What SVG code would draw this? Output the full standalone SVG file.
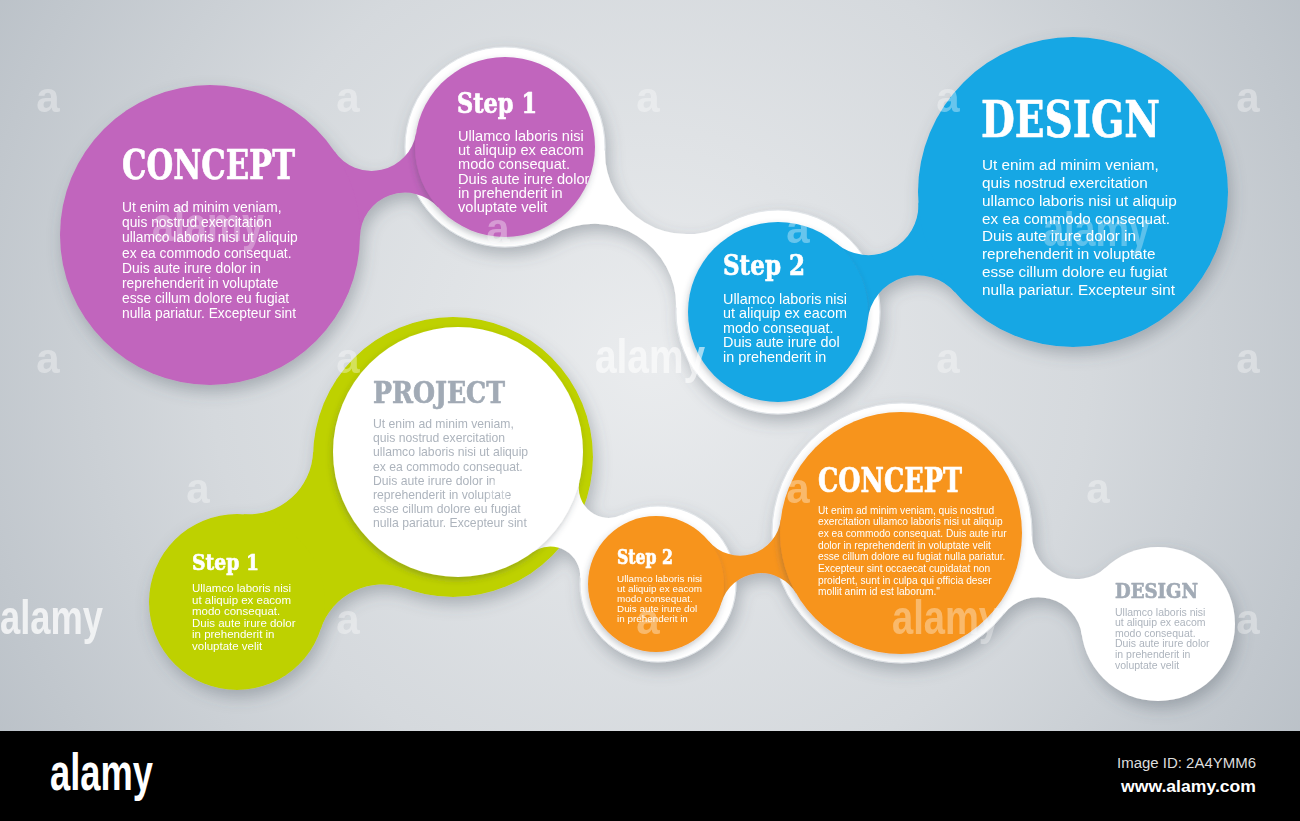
<svg xmlns="http://www.w3.org/2000/svg" width="1300" height="821" viewBox="0 0 1300 821">
<defs>
<radialGradient id="bg" cx="650" cy="360" r="800" gradientUnits="userSpaceOnUse">
<stop offset="0" stop-color="#eaecee"/>
<stop offset="0.55" stop-color="#d5d9dd"/>
<stop offset="1" stop-color="#b7bec5"/>
</radialGradient>
<filter id="sh" x="-10%" y="-10%" width="125%" height="130%">
<feGaussianBlur in="SourceAlpha" stdDeviation="8"/>
<feOffset dx="3" dy="7" result="o"/>
<feFlood flood-color="#4a5560" flood-opacity="0.35"/>
<feComposite in2="o" operator="in"/>
<feMerge><feMergeNode/><feMergeNode in="SourceGraphic"/></feMerge>
</filter>
<filter id="sh2" x="-15%" y="-15%" width="130%" height="130%">
<feGaussianBlur in="SourceAlpha" stdDeviation="3"/>
<feOffset dx="-1" dy="3" result="o"/>
<feFlood flood-color="#3a4550" flood-opacity="0.3"/>
<feComposite in2="o" operator="in"/>
<feMerge><feMergeNode/><feMergeNode in="SourceGraphic"/></feMerge>
</filter>
<style>
.t{font-family:"DejaVu Serif","Liberation Serif",serif;font-weight:bold;stroke-width:0.7;stroke-linejoin:round}
.b{font-family:"Liberation Sans",Arial,sans-serif}
.w{fill:#ffffff}
.t.w{stroke:#ffffff}
.gt{fill:#a1aab5;stroke:#a1aab5}
.gb{fill:#adb4bd}
.pu{fill:#c165bd}
.bl{fill:#17a7e4}
.gr{fill:#bed100}
.or{fill:#f7941e}
.wh{fill:#ffffff}
.plate{fill:#ffffff;stroke:#e1e5e9;stroke-width:1}
.wm{font-family:"Liberation Sans",Arial,sans-serif;font-weight:bold;fill:#ffffff}
</style>
</defs>
<rect x="0" y="0" width="1300" height="731" fill="url(#bg)"/>

<g filter="url(#sh)">
<g id="plates">
<circle class="plate" cx="505" cy="147" r="100"/>
<circle class="plate" cx="778" cy="312" r="102"/>
<circle class="plate" cx="658" cy="584" r="78"/>
<circle class="plate" cx="902" cy="533" r="130"/>
<circle class="gr" cx="453" cy="457" r="140"/>
</g>

<g id="connectors">
<path class="wh" d="M605.0 149.8 A82 82 0 0 0 727.5 223.4 L676.1 308.5 A82 82 0 0 0 554.0 234.2 Z"/>
<path class="wh" d="M579.6 481.0 A30 30 0 0 0 622.5 514.6 L580.2 578.6 A30 30 0 0 0 532.5 552.4 Z"/>
<path class="wh" d="M1032.0 534.5 A44 44 0 0 0 1105.8 567.4 L1081.8 635.0 A44 44 0 0 0 1003.8 613.9 Z"/>
<path class="pu" d="M334.3 151.0 A45 45 0 0 0 416.1 132.9 L438.4 207.5 A45 45 0 0 0 360.0 237.1 Z"/>
<path class="bl" d="M836.1 243.3 A50 50 0 0 0 918.3 201.9 L955.3 292.8 A50 50 0 0 0 867.6 320.6 Z"/>
<path class="gr" d="M313.1 451.8 A65 65 0 0 1 243.4 514.2 L320.7 629.3 A65 65 0 0 1 404.9 588.4 Z"/>
<path class="or" d="M708.4 540.7 A41 41 0 0 0 780.8 519.3 L796.3 593.6 A41 41 0 0 0 721.4 602.8 Z"/>
</g>

<g id="concept-purple">
<circle class="pu" cx="210" cy="235" r="150"/>
<text class="t w" x="122" y="179" font-size="41" textLength="173" lengthAdjust="spacingAndGlyphs">CONCEPT</text>
<text class="b w" font-size="13.8">
<tspan x="122" y="212">Ut enim ad minim veniam,</tspan>
<tspan x="122" y="227.2">quis nostrud exercitation</tspan>
<tspan x="122" y="242.4">ullamco laboris nisi ut aliquip</tspan>
<tspan x="122" y="257.6">ex ea commodo consequat.</tspan>
<tspan x="122" y="272.8">Duis aute irure dolor in</tspan>
<tspan x="122" y="288">reprehenderit in voluptate</tspan>
<tspan x="122" y="303.2">esse cillum dolore eu fugiat</tspan>
<tspan x="122" y="318.4">nulla pariatur. Excepteur sint</tspan>
</text>
</g>

<g id="step1-purple">
<circle class="pu" cx="505" cy="147" r="90" filter="url(#sh2)"/>
<text class="t w" x="457" y="113" font-size="27" textLength="80" lengthAdjust="spacingAndGlyphs">Step 1</text>
<text class="b w" font-size="14.6">
<tspan x="458" y="141">Ullamco laboris nisi</tspan>
<tspan x="458" y="155.2">ut aliquip  ex eacom</tspan>
<tspan x="458" y="169.4">modo consequat.</tspan>
<tspan x="458" y="183.6">Duis aute irure dolor</tspan>
<tspan x="458" y="197.8">in prehenderit in</tspan>
<tspan x="458" y="212">voluptate velit</tspan>
</text>
</g>

<g id="step2-blue">
<circle class="bl" cx="778" cy="312" r="90" filter="url(#sh2)"/>
<text class="t w" x="723" y="275" font-size="27" textLength="82" lengthAdjust="spacingAndGlyphs">Step 2</text>
<text class="b w" font-size="14.4">
<tspan x="723" y="304">Ullamco laboris nisi</tspan>
<tspan x="723" y="318.4">ut aliquip  ex eacom</tspan>
<tspan x="723" y="332.8">modo consequat.</tspan>
<tspan x="723" y="347.2">Duis aute irure dol</tspan>
<tspan x="723" y="361.6">in prehenderit in</tspan>
</text>
</g>

<g id="design-blue">
<circle class="bl" cx="1073" cy="192" r="155"/>
<text class="t w" x="981" y="137" font-size="50" textLength="179" lengthAdjust="spacingAndGlyphs">DESIGN</text>
<text class="b w" font-size="15.3">
<tspan x="982" y="170">Ut enim ad minim veniam,</tspan>
<tspan x="982" y="187.9">quis nostrud exercitation</tspan>
<tspan x="982" y="205.7">ullamco laboris nisi ut aliquip</tspan>
<tspan x="982" y="223.6">ex ea commodo consequat.</tspan>
<tspan x="982" y="241.4">Duis aute irure dolor in</tspan>
<tspan x="982" y="259.3">reprehenderit in voluptate</tspan>
<tspan x="982" y="277.1">esse cillum dolore eu fugiat</tspan>
<tspan x="982" y="295">nulla pariatur. Excepteur sint</tspan>
</text>
</g>

<g id="project">
<circle class="wh" cx="458" cy="452" r="125" filter="url(#sh2)"/>
<text class="t gt" x="373" y="403" font-size="30" textLength="132" lengthAdjust="spacingAndGlyphs">PROJECT</text>
<text class="b gb" font-size="12.2">
<tspan x="373" y="428.3">Ut enim ad minim veniam,</tspan>
<tspan x="373" y="442.4">quis nostrud exercitation</tspan>
<tspan x="373" y="456.4">ullamco laboris nisi ut aliquip</tspan>
<tspan x="373" y="470.5">ex ea commodo consequat.</tspan>
<tspan x="373" y="484.5">Duis aute irure dolor in</tspan>
<tspan x="373" y="498.6">reprehenderit in voluptate</tspan>
<tspan x="373" y="512.6">esse cillum dolore eu fugiat</tspan>
<tspan x="373" y="526.7">nulla pariatur. Excepteur sint</tspan>
</text>
</g>

<g id="step1-green">
<circle class="gr" cx="237" cy="602" r="88"/>
<text class="t w" x="192" y="570" font-size="23" textLength="67" lengthAdjust="spacingAndGlyphs">Step 1</text>
<text class="b w" font-size="11.5">
<tspan x="192" y="592">Ullamco laboris nisi</tspan>
<tspan x="192" y="603.6">ut aliquip  ex eacom</tspan>
<tspan x="192" y="615.2">modo consequat.</tspan>
<tspan x="192" y="626.8">Duis aute irure dolor</tspan>
<tspan x="192" y="638.4">in prehenderit in</tspan>
<tspan x="192" y="650">voluptate velit</tspan>
</text>
</g>

<g id="step2-orange">
<circle class="or" cx="656" cy="584" r="68" filter="url(#sh2)"/>
<text class="t w" x="617" y="563.5" font-size="19.5" textLength="56" lengthAdjust="spacingAndGlyphs">Step 2</text>
<text class="b w" font-size="9.9">
<tspan x="617" y="581.5">Ullamco laboris nisi</tspan>
<tspan x="617" y="591.5">ut aliquip  ex eacom</tspan>
<tspan x="617" y="601.5">modo consequat.</tspan>
<tspan x="617" y="611.5">Duis aute irure dol</tspan>
<tspan x="617" y="621.5">in prehenderit in</tspan>
</text>
</g>

<g id="concept-orange">
<circle class="or" cx="901" cy="533" r="121" filter="url(#sh2)"/>
<text class="t w" x="818" y="491.5" font-size="34" textLength="144" lengthAdjust="spacingAndGlyphs">CONCEPT</text>
<text class="b w" font-size="10.2">
<tspan x="818" y="513.5">Ut enim ad minim veniam, quis nostrud</tspan>
<tspan x="818" y="525.2">exercitation ullamco laboris nisi ut aliquip</tspan>
<tspan x="818" y="536.8">ex ea commodo consequat. Duis aute irur</tspan>
<tspan x="818" y="548.5">dolor in reprehenderit in voluptate velit</tspan>
<tspan x="818" y="560.2">esse cillum dolore eu fugiat nulla pariatur.</tspan>
<tspan x="818" y="571.8">Excepteur sint occaecat cupidatat non</tspan>
<tspan x="818" y="583.5">proident, sunt in culpa qui officia deser</tspan>
<tspan x="818" y="595.2">mollit anim id est laborum."</tspan>
</text>
</g>

<g id="design-white">
<circle class="wh" cx="1158" cy="624" r="77"/>
<text class="t gt" x="1115" y="598" font-size="21" textLength="83" lengthAdjust="spacingAndGlyphs">DESIGN</text>
<text class="b gb" font-size="10.5">
<tspan x="1115" y="615.5">Ullamco laboris nisi</tspan>
<tspan x="1115" y="626.1">ut aliquip  ex eacom</tspan>
<tspan x="1115" y="636.7">modo consequat.</tspan>
<tspan x="1115" y="647.3">Duis aute irure dolor</tspan>
<tspan x="1115" y="657.9">in prehenderit in</tspan>
<tspan x="1115" y="668.5">voluptate velit</tspan>
</text>
</g>
</g>

<g id="watermark">
<g class="wm" font-size="42" text-anchor="middle" opacity="0.35">
<text x="48" y="112">a</text><text x="348" y="112">a</text><text x="648" y="112">a</text><text x="948" y="112">a</text><text x="1248" y="112">a</text>
<text x="498" y="243">a</text><text x="798" y="243">a</text>
<text x="48" y="373">a</text><text x="348" y="373">a</text><text x="948" y="373">a</text><text x="1248" y="373">a</text>
<text x="198" y="503">a</text><text x="498" y="503">a</text><text x="798" y="503">a</text><text x="1098" y="503">a</text>
<text x="348" y="634">a</text><text x="648" y="634">a</text><text x="1248" y="634">a</text>
</g>
<g class="wm" font-size="48">
<text x="0" y="634" textLength="103" lengthAdjust="spacingAndGlyphs" opacity="0.75">alamy</text>
<text x="595" y="373" textLength="110" lengthAdjust="spacingAndGlyphs" opacity="0.6">alamy</text>
<text x="152" y="241" textLength="112" lengthAdjust="spacingAndGlyphs" opacity="0.3">alamy</text>
<text x="1043" y="246" textLength="107" lengthAdjust="spacingAndGlyphs" opacity="0.3">alamy</text>
<text x="892" y="634" textLength="108" lengthAdjust="spacingAndGlyphs" opacity="0.35">alamy</text>
</g>
</g>

<g id="footer">
<rect x="0" y="731" width="1300" height="90" fill="#000000"/>
<text class="wm" x="50" y="790" font-size="52" textLength="103" lengthAdjust="spacingAndGlyphs">alamy</text>
<text x="1117" y="768" font-family="Liberation Sans, Arial, sans-serif" font-size="14" fill="#dddddd" textLength="139" lengthAdjust="spacingAndGlyphs">Image ID: 2A4YMM6</text>
<text x="1121" y="792" font-family="Liberation Sans, Arial, sans-serif" font-weight="bold" font-size="16" fill="#ffffff" textLength="135" lengthAdjust="spacingAndGlyphs">www.alamy.com</text>
</g>
</svg>
